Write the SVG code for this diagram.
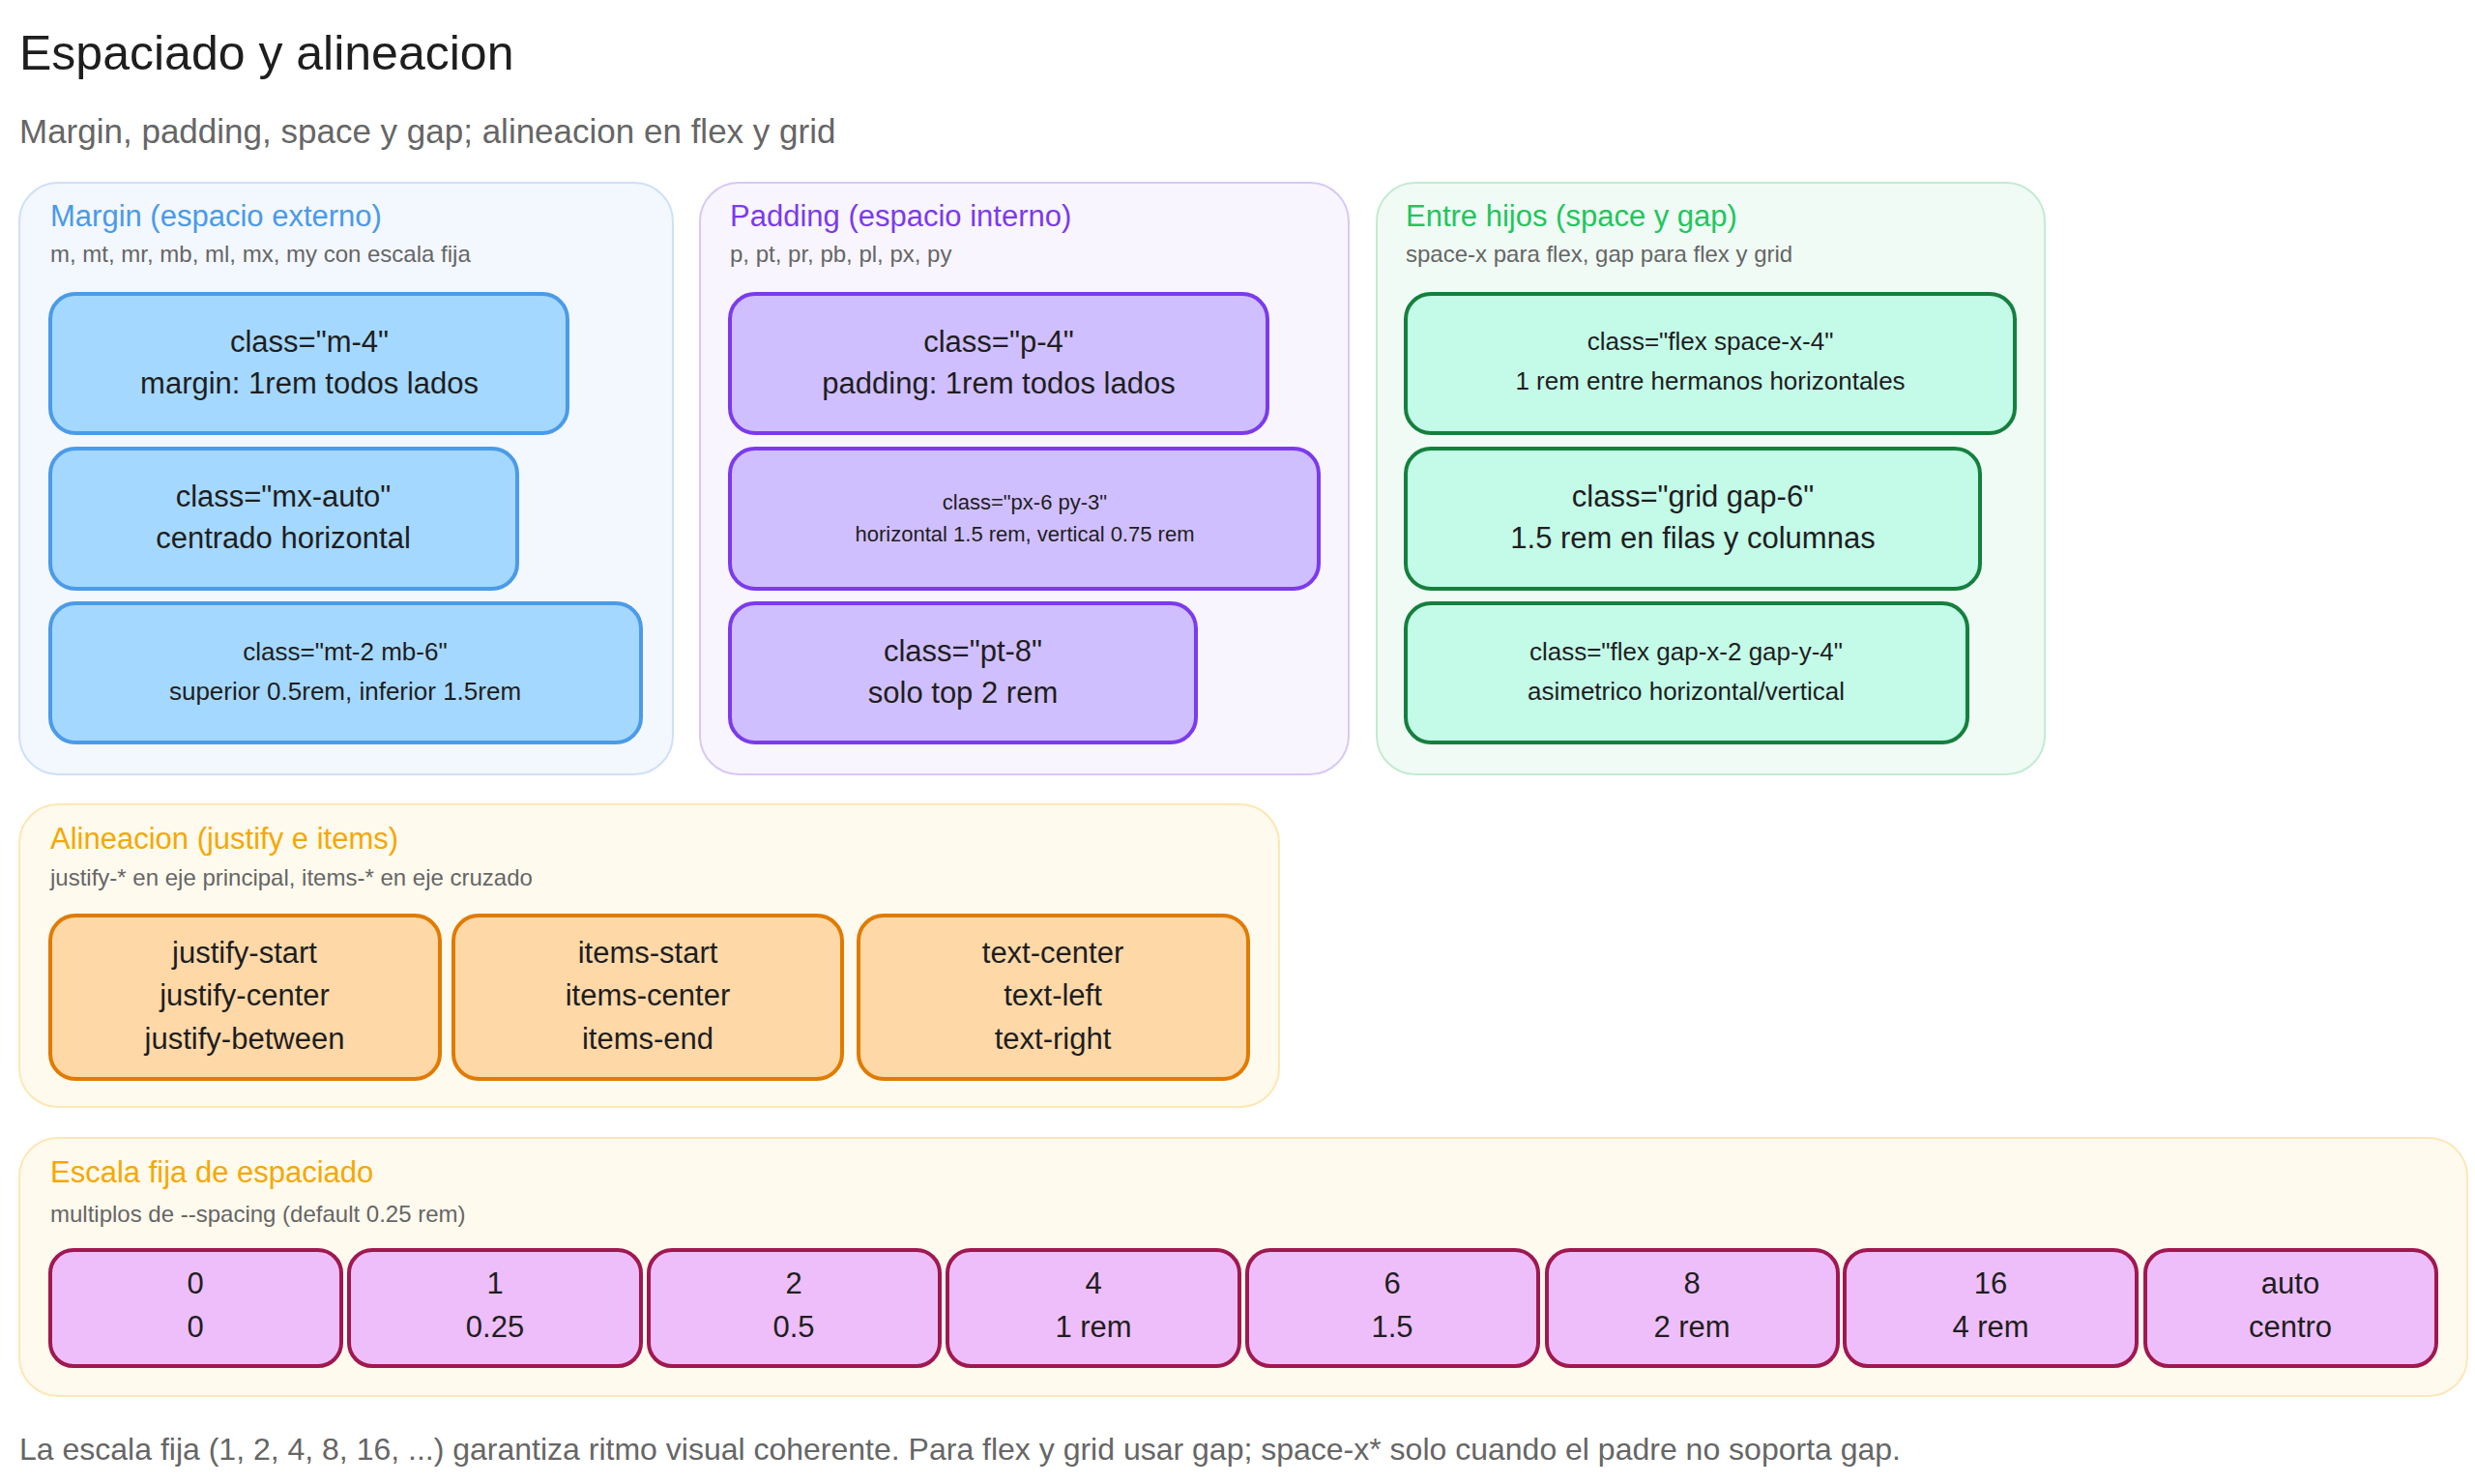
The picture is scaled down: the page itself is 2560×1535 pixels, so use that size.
<svg xmlns="http://www.w3.org/2000/svg" width="2560" height="1535" viewBox="0 0 2560 1535">
<style>
text{font-family:"Liberation Sans",Arial,sans-serif;text-anchor:middle;fill:#1e1e1e}
.l{text-anchor:start}
.pt{font-size:31px}
.ps{font-size:24px;fill:#666}
.b{font-size:31px}
.s{font-size:26px}
.xs{font-size:22px}
.panel{stroke-width:2}
.box{stroke-width:4}
.blue{fill:#a5d8ff;stroke:#4a9be8}
.vio{fill:#d0bfff;stroke:#7c3aed}
.grn{fill:#c3fae8;stroke:#15803d}
.org{fill:#ffd8a8;stroke:#e07b00}
.pnk{fill:#eebefa;stroke:#a01850}
</style>
<rect width="2560" height="1535" fill="#fff"/>
<text class="l" x="20" y="72" font-size="50">Espaciado y alineacion</text>
<text class="l" x="20" y="148" font-size="35" style="fill:#666">Margin, padding, space y gap; alineacion en flex y grid</text>

<g id="margin">
<rect class="panel" x="20" y="189" width="676" height="612" rx="40" fill="#f3f7fe" stroke="#cfe0f8"/>
<text class="l pt" x="52" y="234" style="fill:#4a9ae8">Margin (espacio externo)</text>
<text class="l ps" x="52" y="271">m, mt, mr, mb, ml, mx, my con escala fija</text>
<rect class="box blue" x="52" y="304" width="535" height="144" rx="26"/>
<text class="b" x="320" y="364">class="m-4"</text><text class="b" x="320" y="407">margin: 1rem todos lados</text>
<rect class="box blue" x="52" y="464" width="483" height="145" rx="26"/>
<text class="b" x="293" y="524">class="mx-auto"</text><text class="b" x="293" y="567">centrado horizontal</text>
<rect class="box blue" x="52" y="624" width="611" height="144" rx="26"/>
<text class="s" x="357" y="683">class="mt-2 mb-6"</text><text class="s" x="357" y="724">superior 0.5rem, inferior 1.5rem</text>
</g>

<g id="padding">
<rect class="panel" x="724" y="189" width="671" height="612" rx="40" fill="#f8f5fe" stroke="#d8c8f5"/>
<text class="l pt" x="755" y="234" style="fill:#7c3aed">Padding (espacio interno)</text>
<text class="l ps" x="755" y="271">p, pt, pr, pb, pl, px, py</text>
<rect class="box vio" x="755" y="304" width="556" height="144" rx="26"/>
<text class="b" x="1033" y="364">class="p-4"</text><text class="b" x="1033" y="407">padding: 1rem todos lados</text>
<rect class="box vio" x="755" y="464" width="609" height="145" rx="26"/>
<text class="xs" x="1060" y="527">class="px-6 py-3"</text><text class="xs" x="1060" y="560">horizontal 1.5 rem, vertical 0.75 rem</text>
<rect class="box vio" x="755" y="624" width="482" height="144" rx="26"/>
<text class="b" x="996" y="684">class="pt-8"</text><text class="b" x="996" y="727">solo top 2 rem</text>
</g>

<g id="entre">
<rect class="panel" x="1424" y="189" width="691" height="612" rx="40" fill="#f0fbf5" stroke="#c3ebd3"/>
<text class="l pt" x="1454" y="234" style="fill:#22c55e">Entre hijos (space y gap)</text>
<text class="l ps" x="1454" y="271">space-x para flex, gap para flex y grid</text>
<rect class="box grn" x="1454" y="304" width="630" height="144" rx="26"/>
<text class="s" x="1769" y="362">class="flex space-x-4"</text><text class="s" x="1769" y="403">1 rem entre hermanos horizontales</text>
<rect class="box grn" x="1454" y="464" width="594" height="145" rx="26"/>
<text class="b" x="1751" y="524">class="grid gap-6"</text><text class="b" x="1751" y="567">1.5 rem en filas y columnas</text>
<rect class="box grn" x="1454" y="624" width="581" height="144" rx="26"/>
<text class="s" x="1744" y="683">class="flex gap-x-2 gap-y-4"</text><text class="s" x="1744" y="724">asimetrico horizontal/vertical</text>
</g>

<g id="alineacion">
<rect class="panel" x="20" y="832" width="1303" height="313" rx="40" fill="#fffaee" stroke="#fde7b5"/>
<text class="l pt" x="52" y="878" style="fill:#f5a800">Alineacion (justify e items)</text>
<text class="l ps" x="52" y="916">justify-* en eje principal, items-* en eje cruzado</text>
<rect class="box org" x="52" y="947" width="403" height="169" rx="26"/>
<text class="b" x="253" y="996">justify-start</text><text class="b" x="253" y="1040">justify-center</text><text class="b" x="253" y="1085">justify-between</text>
<rect class="box org" x="469" y="947" width="402" height="169" rx="26"/>
<text class="b" x="670" y="996">items-start</text><text class="b" x="670" y="1040">items-center</text><text class="b" x="670" y="1085">items-end</text>
<rect class="box org" x="888" y="947" width="403" height="169" rx="26"/>
<text class="b" x="1089" y="996">text-center</text><text class="b" x="1089" y="1040">text-left</text><text class="b" x="1089" y="1085">text-right</text>
</g>

<g id="escala">
<rect class="panel" x="20" y="1177" width="2532" height="267" rx="40" fill="#fffaee" stroke="#fde7b5"/>
<text class="l pt" x="52" y="1223" style="fill:#f5a800">Escala fija de espaciado</text>
<text class="l ps" x="52" y="1264">multiplos de --spacing (default 0.25 rem)</text>
<rect class="box pnk" x="52" y="1293" width="301" height="120" rx="24"/><text class="b" x="202" y="1338">0</text><text class="b" x="202" y="1383">0</text>
<rect class="box pnk" x="361" y="1293" width="302" height="120" rx="24"/><text class="b" x="512" y="1338">1</text><text class="b" x="512" y="1383">0.25</text>
<rect class="box pnk" x="671" y="1293" width="301" height="120" rx="24"/><text class="b" x="821" y="1338">2</text><text class="b" x="821" y="1383">0.5</text>
<rect class="box pnk" x="980" y="1293" width="302" height="120" rx="24"/><text class="b" x="1131" y="1338">4</text><text class="b" x="1131" y="1383">1 rem</text>
<rect class="box pnk" x="1290" y="1293" width="301" height="120" rx="24"/><text class="b" x="1440" y="1338">6</text><text class="b" x="1440" y="1383">1.5</text>
<rect class="box pnk" x="1600" y="1293" width="301" height="120" rx="24"/><text class="b" x="1750" y="1338">8</text><text class="b" x="1750" y="1383">2 rem</text>
<rect class="box pnk" x="1908" y="1293" width="302" height="120" rx="24"/><text class="b" x="2059" y="1338">16</text><text class="b" x="2059" y="1383">4 rem</text>
<rect class="box pnk" x="2219" y="1293" width="301" height="120" rx="24"/><text class="b" x="2369" y="1338">auto</text><text class="b" x="2369" y="1383">centro</text>
</g>

<g id="connectors"></g>
<text class="l" x="20" y="1510" font-size="32" style="fill:#666">La escala fija (1, 2, 4, 8, 16, ...) garantiza ritmo visual coherente. Para flex y grid usar gap; space-x* solo cuando el padre no soporta gap.</text>
</svg>
